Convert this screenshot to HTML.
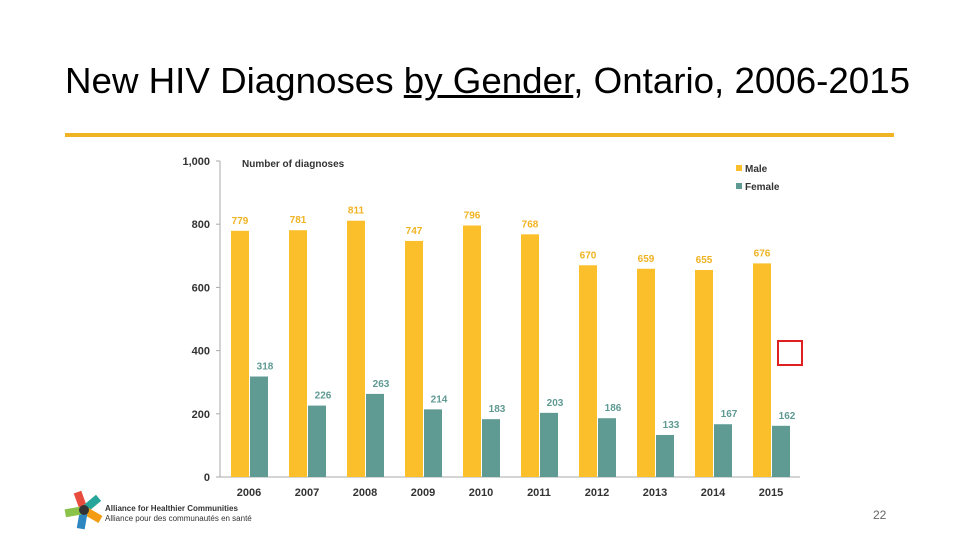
<!DOCTYPE html>
<html><head><meta charset="utf-8">
<style>
body{margin:0;background:#fff;}
#wrap{position:relative;width:960px;height:540px;overflow:hidden;background:#fff;font-family:"Liberation Sans",sans-serif;}
#title{position:absolute;left:65px;top:60px;white-space:nowrap;font-size:36px;color:#000;font-family:"Liberation Sans",sans-serif;transform-origin:0 0;transform:scaleX(1.02);}
#rule{position:absolute;left:65px;top:133px;width:829px;height:4px;background:#f0b323;}
</style></head><body>
<div id="wrap">
<div id="title">New HIV Diagnoses <u>by Gender</u>, Ontario, 2006-2015</div>
<div id="rule"></div>
<svg id="chart" width="960" height="540" style="position:absolute;left:0;top:0"></svg>
<div style="position:absolute;left:777px;top:340px;width:22px;height:22px;border:2px solid #e02020;"></div>
<div style="position:absolute;left:873px;top:508px;font-size:12px;color:#666;">22</div>
<svg width="40" height="40" style="position:absolute;left:64px;top:490px">
<g transform="translate(20,20)">
<rect x="-4" y="-19" width="8" height="16" fill="#e84c3d" transform="rotate(-20)"/>
<rect x="-4" y="-19" width="8" height="16" fill="#26a69a" transform="rotate(50)"/>
<rect x="-4" y="-19" width="8" height="16" fill="#f39c12" transform="rotate(120)"/>
<rect x="-4" y="-19" width="8" height="16" fill="#2e86c1" transform="rotate(190)"/>
<rect x="-4" y="-19" width="8" height="16" fill="#8bc34a" transform="rotate(260)"/>
<circle r="5" fill="#333"/>
</g></svg>
<div style="position:absolute;left:105px;top:504px;font-size:8px;line-height:10px;color:#333;">
<b>Alliance for Healthier Communities</b><br>Alliance pour des communautés en santé</div>
</div>
<script>
const years=["2006","2007","2008","2009","2010","2011","2012","2013","2014","2015"];
const male=[779,781,811,747,796,768,670,659,655,676];
const female=[318,226,263,214,183,203,186,133,167,162];
const ticks=[0,200,400,600,800,1000];
const tickLabels=["0","200","400","600","800","1,000"];
const NS="http://www.w3.org/2000/svg";
const svg=document.getElementById('chart');
const y0=477,y1=161,xAxis=220,x0=249,step=58,bw=18;
const Y=v=>y0-(v/1000)*(y0-y1);
const X=i=>x0+i*step;
function mk(t,a){const e=document.createElementNS(NS,t);for(const k in a)e.setAttribute(k,a[k]);svg.appendChild(e);return e;}
const ax=mk('line',{x1:xAxis,x2:xAxis,y1:y1,y2:y0,stroke:'#aaa','stroke-width':1});


const bx=mk('line',{x1:xAxis,x2:800,y1:y0,y2:y0,stroke:'#aaa','stroke-width':1});


ticks.forEach((t,i)=>{
 const tk=mk('line',{x1:xAxis-4,x2:xAxis,y1:Y(t),y2:Y(t),stroke:'#aaa'});
 
 
 const tl=mk('text',{x:210,y:Y(t)+4,'text-anchor':'end','font-size':11,'font-weight':'bold',fill:'#333'});
 tl.textContent=tickLabels[i];
 
 
});
const at=mk('text',{x:242,y:167,'font-size':10,'font-weight':'bold',fill:'#333'});
at.textContent='Number of diagnoses';


years.forEach((yr,i)=>{
 const m=mk('rect',{x:X(i)-bw,y:Y(male[i]),width:bw,height:y0-Y(male[i]),fill:'#fbbf2b'});
 
 
 const f=mk('rect',{x:X(i)+1,y:Y(female[i]),width:bw,height:y0-Y(female[i]),fill:'#5f9a93'});
 
 
 const ml=mk('text',{x:X(i)-bw/2,y:Y(male[i])-7,'text-anchor':'middle','font-size':10,'font-weight':'bold',fill:'#f0b323'});
 ml.textContent=male[i];
 
 
 const fl=mk('text',{x:X(i)+bw/2+7,y:Y(female[i])-7,'text-anchor':'middle','font-size':10,'font-weight':'bold',fill:'#5f9a93'});
 fl.textContent=female[i];
 
 
 const xl=mk('text',{x:X(i),y:496,'text-anchor':'middle','font-size':11,'font-weight':'bold',fill:'#333'});
 xl.textContent=yr;
 
 
});
[['Male','#fbbf2b',169],['Female','#5f9a93',187]].forEach(([n,c,y])=>{
 const r=mk('rect',{x:736,y:y-4,width:6,height:6,fill:c});
 
 
 const t=mk('text',{x:745,y:y+3,'font-size':10,'font-weight':'bold',fill:'#333'});
 t.textContent=n;
 
 
});
</script>
</body></html>
